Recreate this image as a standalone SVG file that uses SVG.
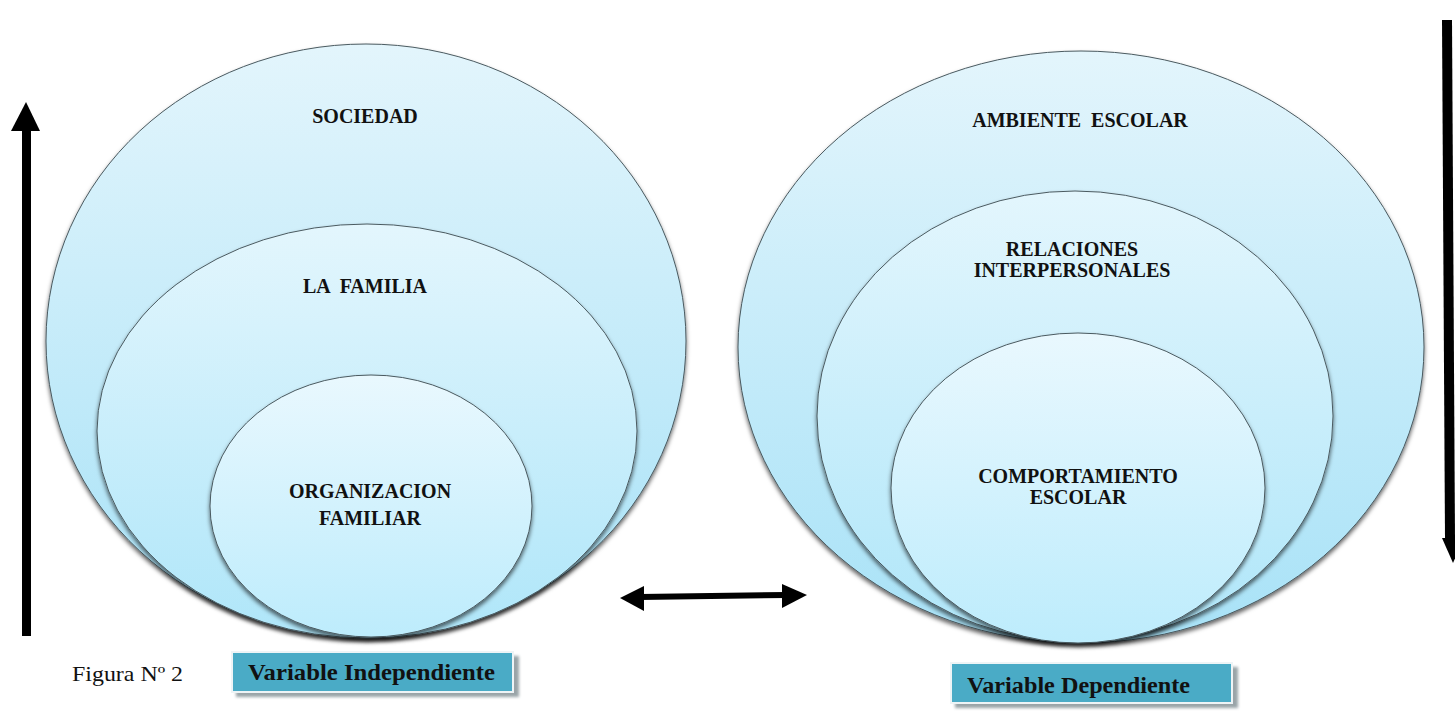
<svg xmlns="http://www.w3.org/2000/svg" width="1455" height="711" viewBox="0 0 1455 711">
<style>
  .ell { stroke: #4a5a60; stroke-width: 1; filter: url(#sh); }
  .lbl { font-family: "Liberation Serif", "Times New Roman", serif; font-weight: bold; font-size: 20px; fill: #111; text-anchor: middle; }
  .box { fill: #4aabc6; stroke: #eef4f6; stroke-width: 2; }
  .boxsh { fill: #9aa4a8; filter: url(#blur); }
  .btxt { font-family: "Liberation Serif", "Times New Roman", serif; font-weight: bold; font-size: 23px; fill: #111; }
</style>
<defs>
  <linearGradient id="gOut" x1="0" y1="0" x2="0" y2="1">
    <stop offset="0" stop-color="#e3f5fc"/>
    <stop offset="1" stop-color="#a8e2f7"/>
  </linearGradient>
  <linearGradient id="gMid" x1="0" y1="0" x2="0" y2="1">
    <stop offset="0" stop-color="#e3f6fd"/>
    <stop offset="1" stop-color="#afe6f9"/>
  </linearGradient>
  <linearGradient id="gIn" x1="0" y1="0" x2="0" y2="1">
    <stop offset="0" stop-color="#e9f8fe"/>
    <stop offset="1" stop-color="#bdecfc"/>
  </linearGradient>
  <filter id="sh" x="-10%" y="-10%" width="120%" height="125%">
    <feDropShadow dx="0" dy="3" stdDeviation="2" flood-color="#000" flood-opacity="0.6"/>
  </filter>
  <filter id="blur" x="-10%" y="-30%" width="120%" height="160%">
    <feGaussianBlur stdDeviation="1.5"/>
  </filter>
</defs>

<g id="left-group">
  <g id="sociedad">
    <ellipse class="ell" cx="366" cy="341" rx="320" ry="297" fill="url(#gOut)"/>
    <text class="lbl" x="365" y="123">SOCIEDAD</text>
  </g>
  <g id="familia">
    <ellipse class="ell" cx="367" cy="431" rx="270" ry="207" fill="url(#gMid)"/>
    <text class="lbl" x="365" y="293" xml:space="preserve">LA  FAMILIA</text>
  </g>
  <g id="organizacion">
    <ellipse class="ell" cx="371" cy="506" rx="161" ry="131" fill="url(#gIn)"/>
    <text class="lbl" x="370" y="498">ORGANIZACION</text>
    <text class="lbl" x="370" y="525">FAMILIAR</text>
  </g>
</g>

<g id="right-group">
  <g id="ambiente">
    <ellipse class="ell" cx="1081" cy="347" rx="343" ry="296" fill="url(#gOut)"/>
    <text class="lbl" x="1080" y="127" xml:space="preserve">AMBIENTE  ESCOLAR</text>
  </g>
  <g id="relaciones">
    <ellipse class="ell" cx="1075" cy="416" rx="258" ry="225" fill="url(#gMid)"/>
    <text class="lbl" x="1072" y="256">RELACIONES</text>
    <text class="lbl" x="1072" y="277">INTERPERSONALES</text>
  </g>
  <g id="comportamiento">
    <ellipse class="ell" cx="1078" cy="488" rx="187" ry="155" fill="url(#gIn)"/>
    <text class="lbl" x="1078" y="483">COMPORTAMIENTO</text>
    <text class="lbl" x="1078" y="504">ESCOLAR</text>
  </g>
</g>

<g id="connectors" fill="#000">
  <!-- up arrow left -->
  <rect x="22" y="125" width="9" height="511"/>
  <polygon points="11,131 40,131 26,102"/>
  <!-- down arrow right -->
  <polygon points="1442,20 1452,20 1455,540 1445,540"/>
  <polygon points="1442,538 1464,538 1453,563"/>
  <!-- double arrow -->
  <polygon points="640,594 786,592 786,598 640,600"/>
  <polygon points="620,598 644,586 644,611"/>
  <polygon points="807,595 782,584 782,608"/>
</g>

<g id="label-independiente">
  <rect class="boxsh" x="236" y="656" width="283" height="41"/>
  <rect class="box" x="232" y="652" width="281" height="40"/>
  <text class="btxt" x="248" y="680" textLength="247" lengthAdjust="spacingAndGlyphs">Variable Independiente</text>
</g>

<g id="label-dependiente">
  <rect class="boxsh" x="955" y="667" width="283" height="41"/>
  <rect class="box" x="951" y="663" width="281" height="40"/>
  <text class="btxt" x="967" y="693" textLength="223" lengthAdjust="spacingAndGlyphs">Variable Dependiente</text>
</g>

<g id="caption">
  <text x="72" y="681" font-family="'Liberation Serif', 'Times New Roman', serif" font-size="22" fill="#111" textLength="111" lengthAdjust="spacingAndGlyphs">Figura Nº 2</text>
</g>
</svg>
